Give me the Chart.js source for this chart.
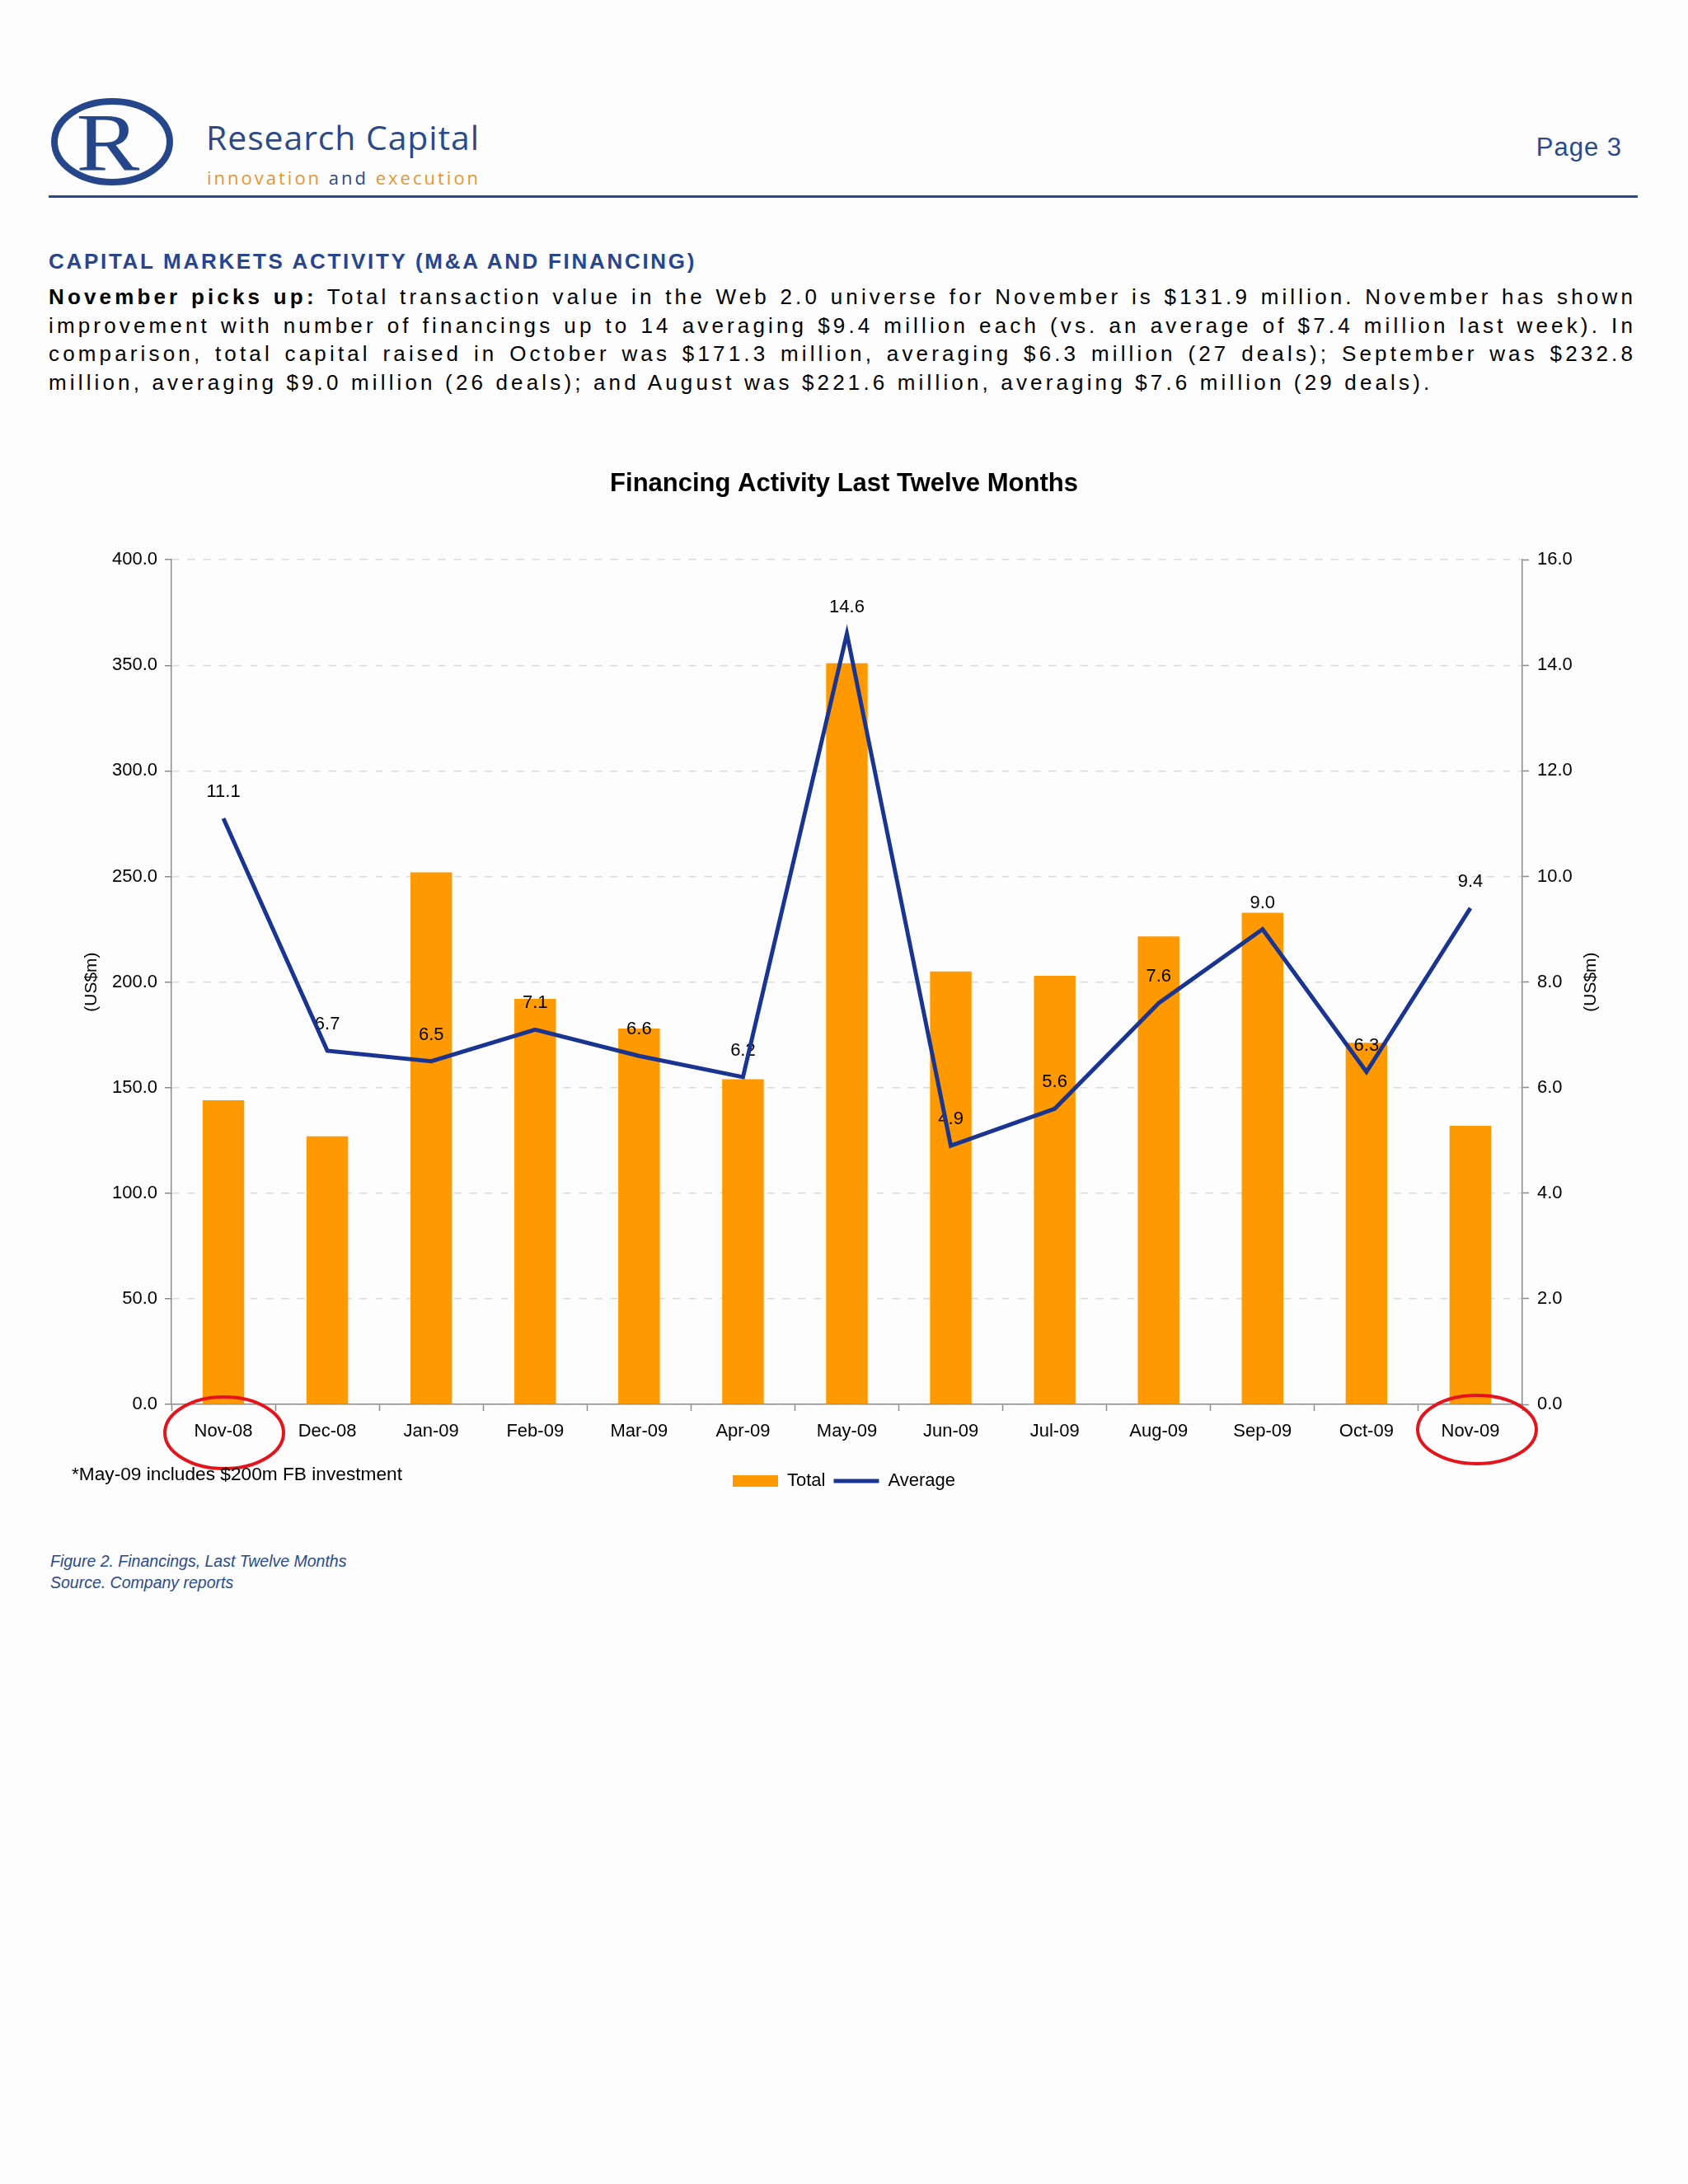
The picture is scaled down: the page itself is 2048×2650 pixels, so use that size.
<!DOCTYPE html>
<html>
<head>
<meta charset="utf-8">
<title>Financing Activity Last Twelve Months</title>
<script src="https://cdn.jsdelivr.net/npm/chart.js@4.4.0/dist/chart.umd.min.js"></script>
<style>
  html, body { margin: 0; padding: 0; }
  body { width: 2048px; height: 2650px; background: #fdfdfd; position: relative; font-family: "Liberation Sans", Arial, sans-serif; color: #000; overflow: hidden; }
  .abs { position: absolute; white-space: nowrap; }
  #brand { left: 250px; top: 146px; font-family: "Open Sans", sans-serif; font-size: 41px; line-height: 41px; letter-spacing: 0.9px; color: #2c4a8a; }
  #tagline { left: 251px; top: 204px; font-family: "Open Sans", sans-serif; font-size: 22px; line-height: 22px; letter-spacing: 3px; color: #e8952f; }
  #tagline span { color: #2c4a8a; }
  #page { right: 80px; top: 163px; font-size: 31px; line-height: 31px; letter-spacing: 1px; color: #2b4a8c; }
  #rule { left: 59px; top: 237px; width: 1928px; height: 3px; background: #2b4a8c; }
  #heading { left: 59px; top: 302px; font-size: 26px; line-height: 30px; font-weight: bold; letter-spacing: 2.7px; color: #28458f; }
  #body { left: 59px; top: 343px; width: 1926px; }
  #body div { font-size: 26px; line-height: 34.5px; letter-spacing: 4.15px; white-space: nowrap; text-align: justify; text-align-last: justify; }
  #body div.last { text-align-last: left; }
  #chartBox { left: 0; top: 540px; width: 2048px; height: 1300px; }
  #note { left: 87px; top: 1775px; font-size: 22.7px; line-height: 27px; }
  #caption { left: 61px; top: 1881px; font-size: 19.5px; line-height: 26px; font-style: italic; color: #2b4a8c; }
</style>
</head>
<body>
<svg class="abs" style="left:58px;top:114px" width="160" height="116" viewBox="0 0 160 116">
  <ellipse cx="78" cy="58" rx="70" ry="49" fill="none" stroke="#26468c" stroke-width="8"/>
  <text x="30" y="92" font-family="Liberation Serif, DejaVu Serif, serif" font-size="100" fill="#26468c" transform="scale(1.15 1)">R</text>
</svg>
<div class="abs" id="brand">Research Capital</div>
<div class="abs" id="tagline">innovation <span>and</span> execution</div>
<div class="abs" id="page">Page 3</div>
<div class="abs" id="rule"></div>

<div class="abs" id="heading">CAPITAL MARKETS ACTIVITY (M&amp;A AND FINANCING)</div>
<div class="abs" id="body">
  <div><b>November picks up:</b> Total transaction value in the Web 2.0 universe for November is $131.9 million. November has shown</div>
  <div>improvement with number of financings up to 14 averaging $9.4 million each (vs. an average of $7.4 million last week). In</div>
  <div>comparison, total capital raised in October was $171.3 million, averaging $6.3 million (27 deals); September was $232.8</div>
  <div class="last">million, averaging $9.0 million (26 deals); and August was $221.6 million, averaging $7.6 million (29 deals).</div>
</div>

<div class="abs" id="chartBox"><canvas id="chart" width="2048" height="1300"></canvas></div>
<div class="abs" id="note">*May-09 includes $200m FB investment</div>
<div class="abs" id="caption">Figure 2. Financings, Last Twelve Months<br>Source. Company reports</div>

<script>
// values
const months = ['Nov-08', 'Dec-08', 'Jan-09', 'Feb-09', 'Mar-09', 'Apr-09', 'May-09',
    'Jun-09', 'Jul-09', 'Aug-09', 'Sep-09', 'Oct-09', 'Nov-09'];
const totals = [144, 127, 252, 192, 178, 154, 351, 205, 203, 221.6, 232.8, 171.3, 131.9];
const averages = [11.1, 6.7, 6.5, 7.1, 6.6, 6.2, 14.6, 4.9, 5.6, 7.6, 9.0, 6.3, 9.4];
const circledMonths = ['Nov-08', 'Nov-09'];

const ORANGE = '#FF9900';
const NAVY = '#1A3591';
const AXIS = '#8c8c8c';
const FONT = '"Liberation Sans", Arial, sans-serif';

Chart.defaults.font.family = FONT;
Chart.defaults.color = '#000';

// circle offsets relative to the tick label (annotation, not data)
const RING = { 'Nov-08': { dx: 1, dy: 34.5, rx: 72, ry: 43.5 }, 'Nov-09': { dx: 8, dy: 30.5, rx: 72, ry: 41.5 } };

const decor = {
    id: 'decor',
    afterDatasetDraw(chart, args) {
        if (args.index !== 0) return;
        const ctx = chart.ctx;
        const pts = chart.getDatasetMeta(1).data;
        ctx.save();
        ctx.font = '22px ' + FONT;
        ctx.fillStyle = '#000';
        ctx.textAlign = 'center';
        ctx.textBaseline = 'middle';
        pts.forEach((p, i) => ctx.fillText(averages[i].toFixed(1), p.x, p.y - 32));
        ctx.restore();
    },
    afterDraw(chart) {
        const { ctx, chartArea, scales } = chart;
        const midY = (chartArea.top + chartArea.bottom) / 2;
        ctx.save();
        ctx.font = '21px ' + FONT;
        ctx.fillStyle = '#000';
        ctx.textAlign = 'center';
        ctx.textBaseline = 'middle';
        [scales.y.left + 111, scales.y1.left + 83].forEach(x => {
            ctx.save();
            ctx.translate(x, midY);
            ctx.rotate(-Math.PI / 2);
            ctx.fillText('(US$m)', 0, 0);
            ctx.restore();
        });
        ctx.strokeStyle = '#e3141b';
        ctx.lineWidth = 4;
        circledMonths.forEach(m => {
            const r = RING[m];
            const x = scales.x.getPixelForValue(months.indexOf(m)) + r.dx;
            ctx.beginPath();
            ctx.ellipse(x, chartArea.bottom + r.dy, r.rx, r.ry, 0, 0, Math.PI * 2);
            ctx.stroke();
        });
        ctx.restore();
    }
};

new Chart(document.getElementById('chart'), {
    type: 'bar',
    data: {
        labels: months,
        datasets: [{
            type: 'bar',
            label: 'Total',
            data: totals,
            backgroundColor: ORANGE,
            borderWidth: 0,
            categoryPercentage: 1,
            barPercentage: 0.4,
            yAxisID: 'y',
            order: 2
        }, {
            type: 'line',
            label: 'Average',
            data: averages,
            borderColor: NAVY,
            borderWidth: 5,
            pointRadius: 0,
            tension: 0,
            fill: false,
            yAxisID: 'y1',
            order: 1
        }]
    },
    options: {
        responsive: false,
        animation: false,
        devicePixelRatio: 1,
        layout: { padding: { left: 0, right: 0, top: 0, bottom: 22 } },
        plugins: {
            title: {
                display: true,
                text: 'Financing Activity Last Twelve Months',
                color: '#000',
                font: { size: 31, weight: 'bold' },
                padding: { top: 29, bottom: 73 }
            },
            legend: {
                position: 'bottom',
                labels: {
                    font: { size: 22 },
                    color: '#000',
                    padding: 10,
                    usePointStyle: true,
                    pointStyleWidth: 55,
                    boxHeight: 14,
                    generateLabels: () => [
                        { text: 'Total', fillStyle: ORANGE, strokeStyle: ORANGE, lineWidth: 0, pointStyle: 'rect', datasetIndex: 0 },
                        { text: 'Average', fillStyle: NAVY, strokeStyle: NAVY, lineWidth: 5, pointStyle: 'line', datasetIndex: 1 }
                    ]
                }
            },
            tooltip: { enabled: false }
        },
        scales: {
            x: {
                afterFit: s => { s.height = 72; },
                grid: { drawOnChartArea: false, drawTicks: true, tickLength: 8, tickColor: AXIS, tickWidth: 1.5 },
                border: { color: AXIS, width: 1.5 },
                ticks: { font: { size: 22 }, padding: 12, maxRotation: 0, autoSkip: false }
            },
            y: {
                position: 'left',
                min: 0,
                max: 400,
                afterFit: s => { s.width = 208; },
                ticks: { stepSize: 50, font: { size: 22 }, padding: 9, callback: v => v.toFixed(1) },
                grid: { color: '#dadada', lineWidth: 1.5, tickLength: 8, tickColor: AXIS, tickWidth: 1.5, tickBorderDash: [] },
                border: { color: AXIS, width: 1.5, dash: [9, 10] }
            },
            y1: {
                position: 'right',
                min: 0,
                max: 16,
                afterFit: s => { s.width = 201; },
                ticks: { stepSize: 2, font: { size: 22 }, padding: 10, callback: v => v.toFixed(1) },
                grid: { drawOnChartArea: false, tickLength: 8, tickColor: AXIS, tickWidth: 1.5 },
                border: { color: AXIS, width: 1.5 }
            }
        }
    },
    plugins: [decor]
});
</script>
</body>
</html>
